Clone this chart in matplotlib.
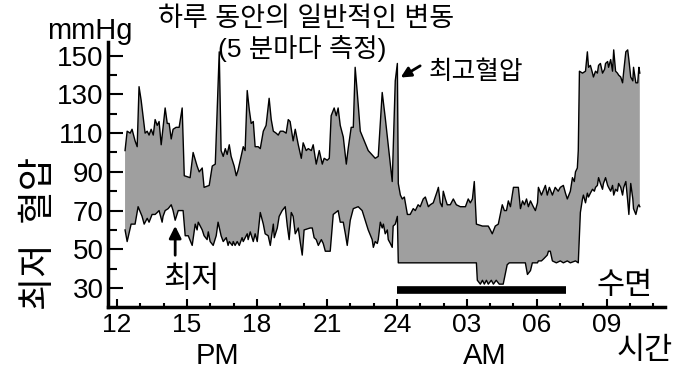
import numpy as np
import matplotlib
matplotlib.use('Agg')
import matplotlib.pyplot as plt

plt.rcParams['font.family'] = ['Liberation Sans', 'Noto Sans CJK KR']

# systolic (upper) readings: time in hours from noon (24 = midnight), mmHg
hi_t = [12.34, 12.43, 12.56, 12.64, 12.77, 12.86, 12.94, 13.03, 13.12, 13.20, 13.29, 13.37, 13.46, 13.55,
        13.63, 13.72, 13.80, 13.89, 14.06, 14.15, 14.23, 14.32, 14.40, 14.53, 14.66, 14.79, 14.88, 15.13,
        15.26, 15.43, 15.52, 15.65, 15.73, 15.95, 16.08, 16.21, 16.38, 16.46, 16.55, 16.64, 16.72, 16.81,
        16.89, 17.02, 17.11, 17.19, 17.28, 17.41, 17.49, 17.58, 17.67, 17.75, 17.84, 17.92, 18.05, 18.14,
        18.27, 18.39, 18.52, 18.61, 18.70, 18.82, 18.91, 19.00, 19.12, 19.25, 19.34, 19.42, 19.55, 19.64,
        19.77, 19.90, 19.98, 20.11, 20.20, 20.33, 20.41, 20.54, 20.67, 20.80, 20.88, 21.01, 21.10, 21.18,
        21.31, 21.40, 21.48, 21.57, 21.70, 21.83, 21.91, 22.04, 22.13, 22.21, 22.30, 22.43, 22.77, 23.07,
        23.20, 23.37, 23.50, 23.80, 23.93, 24.02, 24.06, 24.15, 24.23, 24.32, 24.45, 24.57, 24.70, 24.79,
        24.91, 25.00, 25.13, 25.22, 25.35, 25.43, 25.56, 25.73, 25.78, 25.86, 25.94, 25.99, 26.08, 26.16,
        26.29, 26.42, 26.55, 26.72, 26.85, 26.94, 27.06, 27.15, 27.24, 27.32, 27.41, 27.67, 27.92, 28.01,
        28.09, 28.22, 28.35, 28.52, 28.61, 28.70, 28.78, 28.87, 29.00, 29.21, 29.30, 29.39, 29.47, 29.56,
        29.64, 29.73, 29.85, 29.94, 30.03, 30.07, 30.20, 30.37, 30.45, 30.54, 30.67, 30.79, 30.92, 31.01,
        31.14, 31.23, 31.31, 31.44, 31.53, 31.61, 31.66, 31.74, 31.78, 31.83, 31.96, 32.09, 32.17, 32.22,
        32.30, 32.39, 32.43, 32.52, 32.60, 32.65, 32.73, 32.82, 32.91, 32.95, 33.04, 33.08, 33.17, 33.25,
        33.30, 33.38, 33.46, 33.51, 33.60, 33.68, 33.73, 33.82, 33.90, 33.95, 34.03, 34.12, 34.15, 34.25,
        34.33, 34.38, 34.42]
hi_v = [101, 111, 110, 112, 106, 103, 134, 127, 118, 110, 111, 109, 112, 109,
        117, 114, 116, 104, 123, 115, 115, 107, 112, 113, 113, 123, 88, 87,
        100, 93, 90, 92, 82, 83, 93, 94, 152, 101, 98, 102, 99, 104,
        98, 93, 88, 91, 96, 103, 101, 132, 122, 115, 116, 103, 103, 102,
        111, 114, 128, 117, 111, 110, 109, 111, 111, 110, 117, 116, 106, 112,
        104, 97, 105, 101, 102, 101, 104, 94, 101, 94, 97, 96, 97, 119,
        123, 119, 123, 114, 108, 94, 102, 113, 113, 144, 131, 111, 101, 97,
        98, 131, 118, 85, 137, 146, 84, 78, 76, 77, 68, 68, 71, 70,
        73, 72, 76, 77, 72, 73, 74, 80, 82, 74, 72, 80, 76, 73,
        73, 76, 73, 72, 72, 72, 76, 74, 76, 85, 63, 62, 62, 60,
        58, 62, 63, 73, 70, 70, 75, 72, 82, 82, 71, 75, 73, 76,
        72, 75, 72, 70, 74, 82, 78, 83, 78, 82, 78, 82, 80, 82,
        83, 79, 76, 80, 87, 85, 90, 92, 101, 142, 141, 142, 152, 144,
        145, 141, 139, 142, 141, 145, 146, 141, 143, 146, 147, 144, 148, 142,
        153, 142, 141, 140, 139, 136, 142, 152, 153, 148, 139, 137, 144, 136,
        136, 144, 141]

# diastolic (lower) readings
lo_t = [12.34, 12.43, 12.60, 12.77, 12.90, 13.07, 13.16, 13.29, 13.37, 13.50, 13.63, 13.72, 13.80, 13.93,
        13.97, 14.06, 14.19, 14.32, 14.40, 14.49, 14.62, 14.83, 14.92, 15.05, 15.22, 15.35, 15.43, 15.48,
        15.65, 15.73, 15.86, 15.91, 15.99, 16.12, 16.25, 16.33, 16.46, 16.55, 16.68, 16.76, 16.81, 16.94,
        16.98, 17.06, 17.15, 17.24, 17.36, 17.41, 17.58, 17.62, 17.71, 17.84, 17.92, 18.01, 18.14, 18.27,
        18.35, 18.48, 18.57, 18.70, 18.74, 18.87, 18.95, 19.08, 19.21, 19.30, 19.38, 19.47, 19.55, 19.64,
        19.77, 19.85, 19.94, 20.02, 20.28, 20.37, 20.45, 20.54, 20.63, 20.76, 20.84, 20.93, 21.14, 21.27,
        21.48, 21.57, 21.70, 21.79, 21.87, 22.00, 22.13, 22.34, 22.51, 22.64, 22.77, 22.94, 22.99, 23.07,
        23.16, 23.20, 23.29, 23.37, 23.42, 23.50, 23.59, 23.63, 23.72, 23.80, 23.84, 23.93, 24.02, 24.06,
        27.41, 27.45, 27.58, 27.67, 27.75, 27.84, 27.92, 28.05, 28.14, 28.26, 28.39, 28.56, 28.73, 28.82,
        29.51, 29.60, 29.73, 29.81, 30.03, 30.07, 30.20, 30.29, 30.45, 30.50, 30.58, 30.67, 30.84, 31.01,
        31.14, 31.31, 31.44, 31.66, 31.78, 31.87, 31.96, 32.00, 32.09, 32.17, 32.22, 32.30, 32.39, 32.47,
        32.52, 32.60, 32.65, 32.73, 32.82, 32.86, 32.95, 33.04, 33.08, 33.17, 33.25, 33.30, 33.38, 33.46,
        33.51, 33.60, 33.68, 33.73, 33.82, 33.90, 33.95, 34.03, 34.12, 34.15, 34.25, 34.33, 34.38, 34.42]
lo_v = [60, 54, 63, 63, 72, 67, 63, 66, 64, 68, 68, 69, 70, 64,
        67, 70, 71, 73, 70, 65, 70, 70, 57, 57, 52, 63, 60, 64,
        60, 57, 55, 59, 54, 52, 57, 64, 57, 54, 56, 52, 54, 52,
        54, 52, 54, 52, 56, 54, 58, 55, 59, 54, 58, 54, 69, 63,
        58, 57, 52, 63, 56, 61, 67, 70, 72, 62, 55, 69, 67, 58,
        61, 54, 47, 60, 61, 61, 56, 55, 52, 55, 53, 49, 49, 68,
        70, 64, 64, 58, 52, 65, 71, 72, 70, 65, 60, 55, 51, 54,
        53, 55, 64, 61, 63, 58, 60, 55, 53, 51, 62, 63, 67, 43,
        43, 34, 32, 34, 32, 34, 32, 34, 32, 34, 32, 32, 42, 43,
        43, 37, 39, 43, 43, 44, 44, 45, 47, 49, 49, 44, 43, 44,
        43, 44, 43, 44, 43, 69, 76, 78, 74, 79, 77, 79, 81, 80,
        82, 83, 87, 84, 81, 84, 87, 83, 82, 80, 83, 78, 81, 80,
        84, 82, 78, 82, 85, 75, 68, 84, 76, 71, 68, 72, 73, 72]

sleep_start, sleep_end, sleep_level = 24.0, 31.25, 29

x_ticks = [12, 15, 18, 21, 24, 27, 30, 33]
x_labels = ['12', '15', '18', '21', '24', '03', '06', '09']
y_ticks = [30, 50, 70, 90, 110, 130, 150]

fig = plt.figure(figsize=(7, 3.73), dpi=100)
ax = fig.add_axes([0.154, 0.177, 0.796, 0.71])

# gray band between the two curves
poly_t = np.r_[hi_t, lo_t[::-1]]
poly_v = np.r_[hi_v, lo_v[::-1]]
ax.fill(poly_t, poly_v, color='#9f9f9f', lw=0, zorder=1)
ax.plot(hi_t, hi_v, color='k', lw=1, zorder=2)
ax.plot(lo_t, lo_v, color='k', lw=1, zorder=2)

# sleep bar
ax.plot([sleep_start, sleep_end], [sleep_level, sleep_level], color='k', lw=5.5,
        solid_capstyle='butt', zorder=3)
ax.text(33.76, 31, '수면', fontsize=22, ha='center', va='center')

# annotations
ax.annotate('', xy=(14.49, 63.5), xytext=(14.49, 45.5),
            arrowprops=dict(arrowstyle='-|>', color='k', lw=2, mutation_scale=18))
ax.text(15.18, 34, '최저', fontsize=22, ha='center', va='center')
ax.annotate('', xy=(24.06, 138), xytext=(25.1, 145.5),
            arrowprops=dict(arrowstyle='-|>', color='k', lw=2, mutation_scale=15))
ax.text(27.4, 141.7, '최고혈압', fontsize=18.5, ha='center', va='center')

ax.set_xlim(11.6, 35.5)
ax.set_ylim(20.2, 157)
for s in ['top', 'right']:
    ax.spines[s].set_visible(False)
ax.spines['left'].set_linewidth(2.5)
ax.spines['bottom'].set_linewidth(2.5)

ax.set_xticks(x_ticks)
ax.set_xticklabels(x_labels)
ax.set_xticks(range(13, 36), minor=True)
ax.set_yticks(y_ticks)
ax.set_yticks(range(40, 150, 20), minor=True)
ax.tick_params(axis='x', which='major', direction='in', length=6, width=1.5, labelsize=19, pad=4)
ax.tick_params(axis='x', which='minor', direction='in', length=3, width=1.5)
ax.tick_params(axis='y', which='major', direction='in', length=11, width=1.5, labelsize=20, pad=3)
ax.tick_params(axis='y', which='minor', direction='in', length=6.5, width=1.5)

# titles and labels
fig.text(0.437, 0.950, '하루 동안의 일반적인 변동', fontsize=19.5, ha='center', va='center')
fig.text(0.431, 0.871, '(5 분마다 측정)', fontsize=19, ha='center', va='center')
fig.text(0.129, 0.895, 'mmHg', fontsize=21, ha='center', va='baseline')
fig.text(0.057, 0.375, '최저  혈압', fontsize=26, rotation=90, ha='center', va='center')
fig.text(0.310, 0.046, 'PM', fontsize=21, ha='center', va='center')
fig.text(0.693, 0.046, 'AM', fontsize=21, ha='center', va='center')
fig.text(0.921, 0.059, '시간', fontsize=22, ha='center', va='center')

fig.savefig('out.png', dpi=100)
